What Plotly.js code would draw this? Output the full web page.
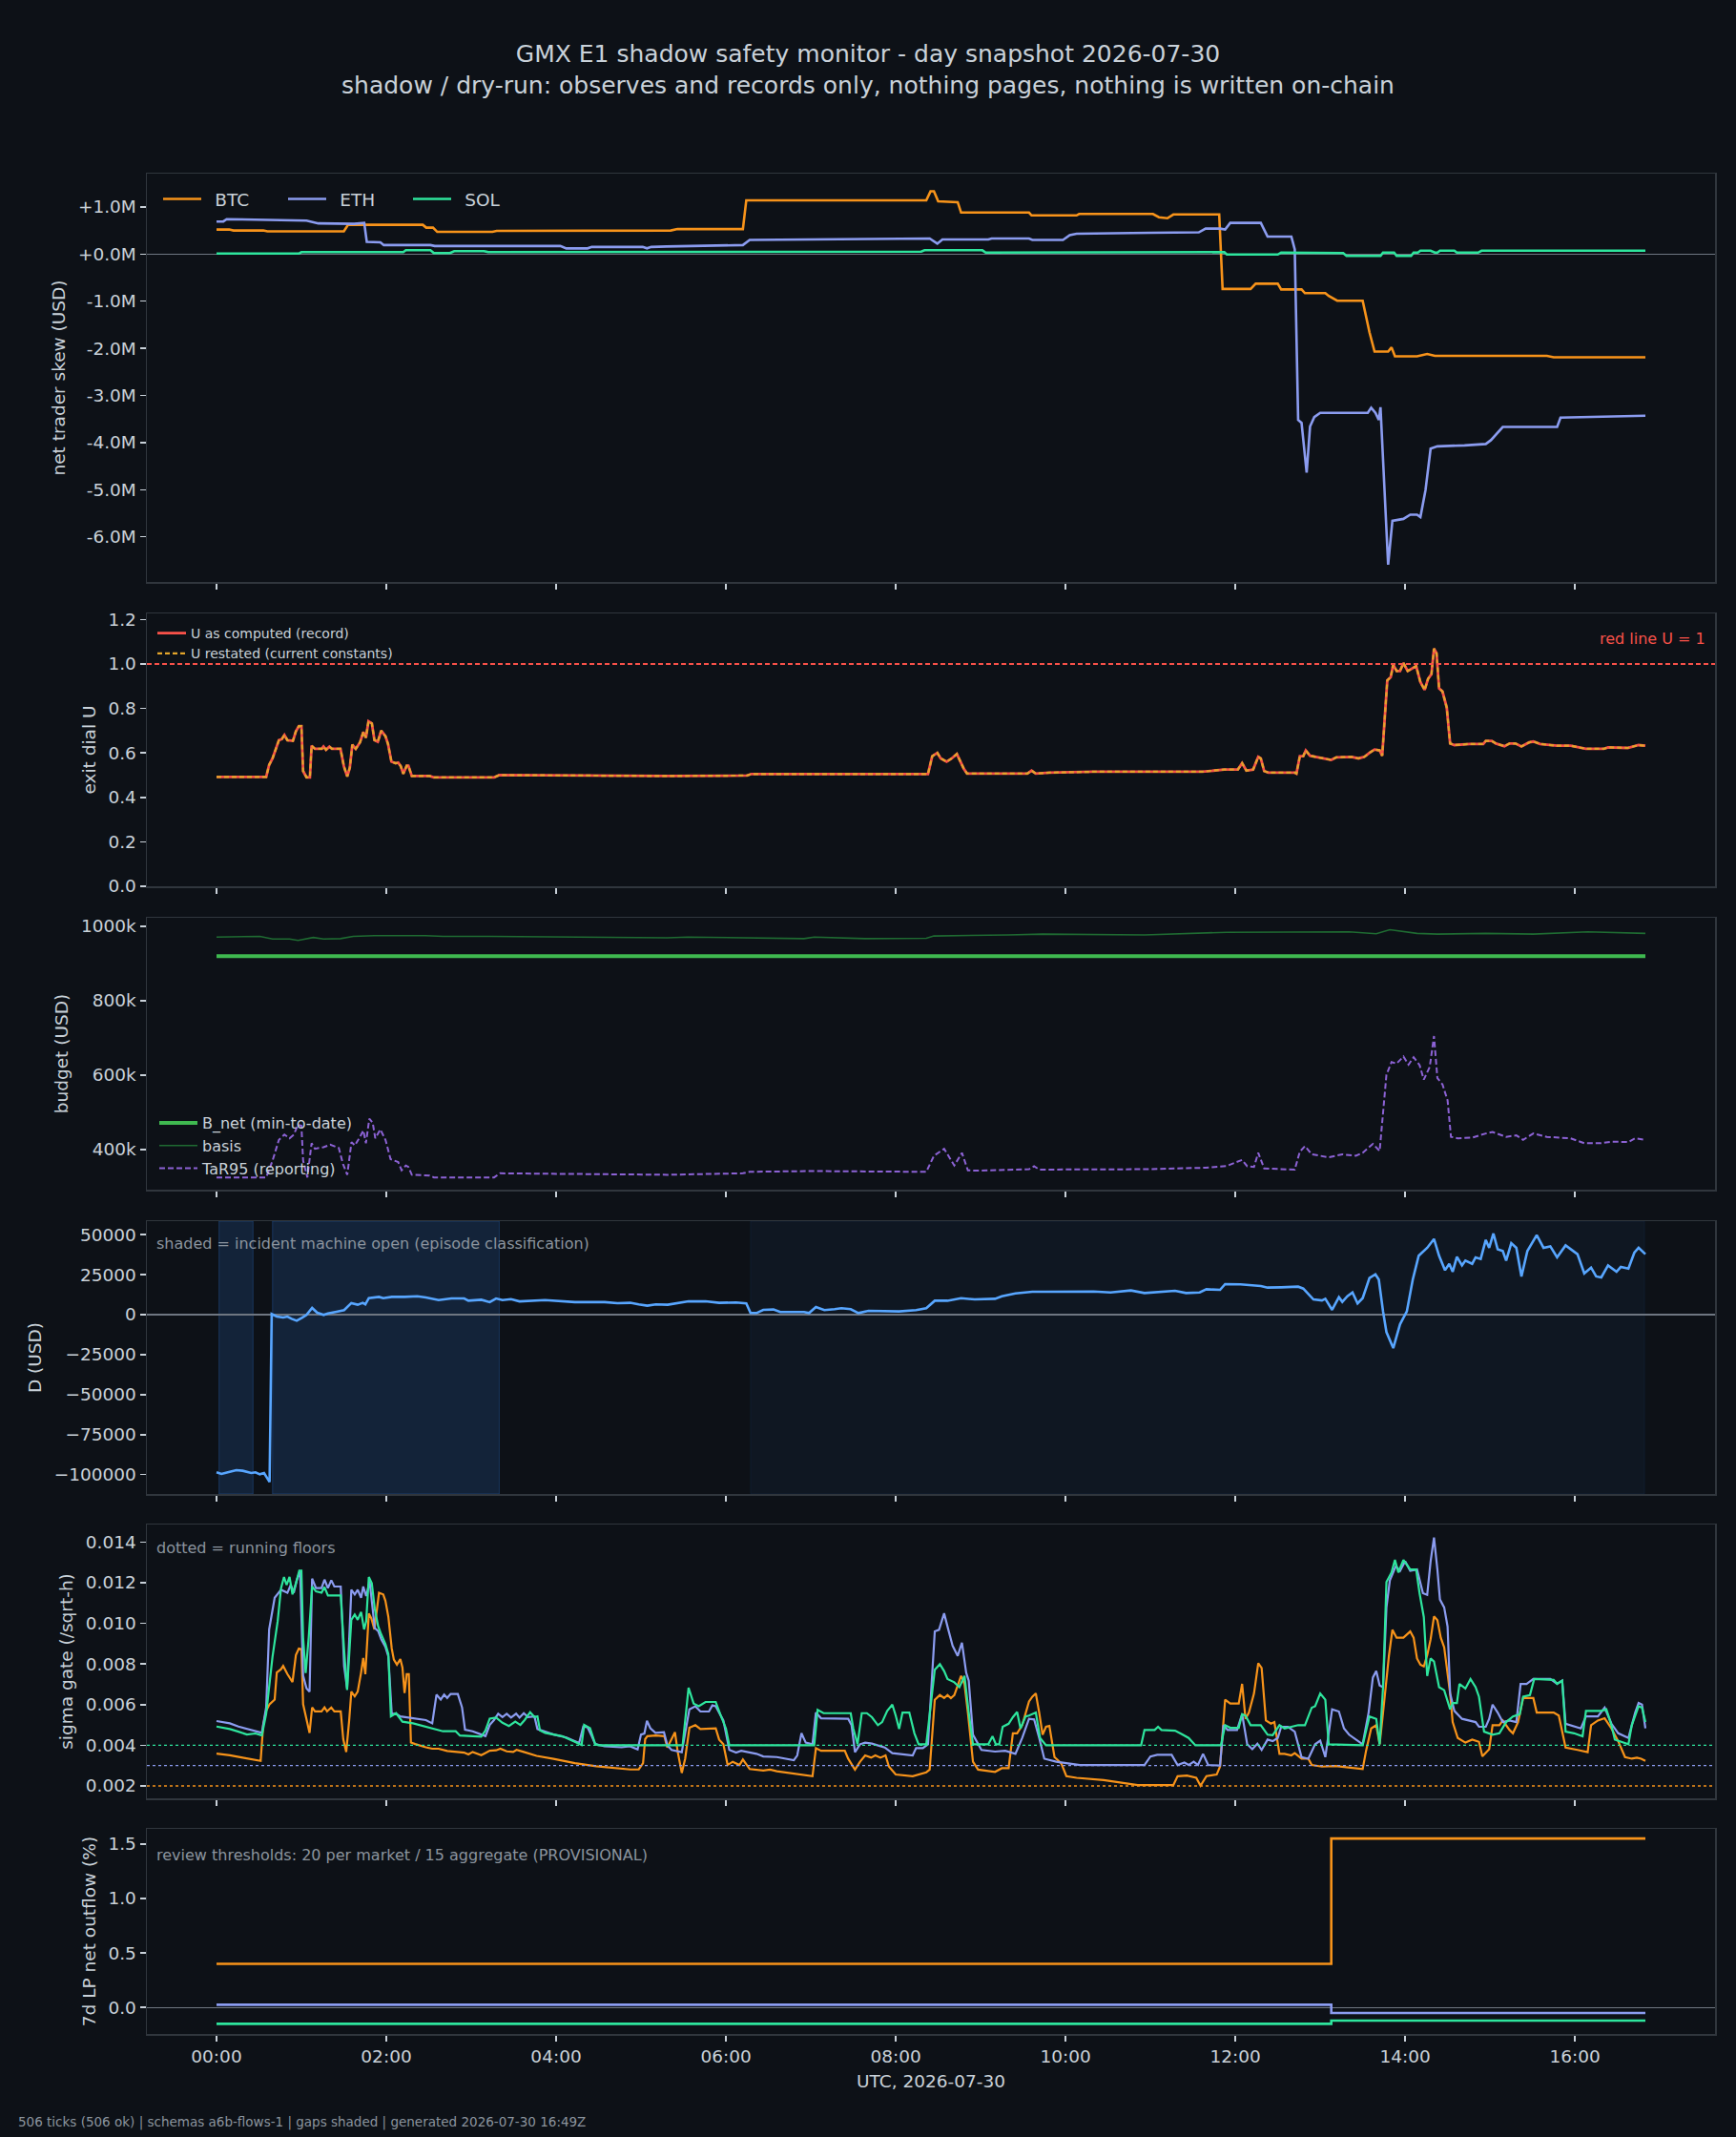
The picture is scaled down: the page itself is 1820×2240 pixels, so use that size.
<!DOCTYPE html>
<html><head><meta charset="utf-8">
<script src="https://cdn.plot.ly/plotly-3.0.1.min.js"></script>
<style>html,body{margin:0;padding:0;background:#0d1117;}#chart{width:1820px;height:2240px;}</style>
</head><body><div id="chart"></div>
<script>
// ---------- data (hours since 00:00 UTC, value) ----------
const X_TICK_VALS = [0,2,4,6,8,10,12,14,16];
const X_TICK_LABELS = ["00:00","02:00","04:00","06:00","08:00","10:00","12:00","14:00","16:00"];

// panel 1: net trader skew, millions USD
const BTC_SKEW_M = [[0,0.52],[0.15,0.52],[0.2,0.50],[0.55,0.50],[0.6,0.48],[1.5,0.48],[1.55,0.62],[2.43,0.62],[2.47,0.56],[2.55,0.56],[2.6,0.47],[3.25,0.47],[3.3,0.49],[4.1,0.49],[4.15,0.50],[5.35,0.50],[5.43,0.53],[6.2,0.53],[6.24,1.14],[8.36,1.14],[8.41,1.33],[8.45,1.33],[8.5,1.12],[8.73,1.10],[8.77,0.88],[9.57,0.88],[9.6,0.82],[10.13,0.82],[10.16,0.85],[11.03,0.85],[11.1,0.78],[11.2,0.76],[11.27,0.84],[11.81,0.84],[11.85,-0.74],[12.18,-0.74],[12.24,-0.63],[12.5,-0.63],[12.54,-0.75],[12.78,-0.75],[12.82,-0.83],[13.06,-0.83],[13.1,-0.89],[13.2,-0.99],[13.5,-0.99],[13.58,-1.66],[13.64,-2.07],[13.8,-2.07],[13.84,-1.98],[13.88,-2.17],[14.14,-2.17],[14.26,-2.12],[14.35,-2.16],[15.67,-2.16],[15.75,-2.19],[16.83,-2.19]];
const ETH_SKEW_M = [[0,0.69],[0.08,0.69],[0.12,0.74],[0.73,0.73],[0.78,0.72],[1.06,0.71],[1.2,0.65],[1.56,0.65],[1.62,0.64],[1.74,0.66],[1.77,0.26],[1.93,0.25],[1.97,0.19],[2.52,0.19],[2.57,0.17],[4.05,0.17],[4.12,0.12],[4.37,0.12],[4.42,0.15],[5.02,0.15],[5.07,0.12],[5.12,0.15],[5.3,0.16],[6.2,0.19],[6.28,0.30],[8.4,0.33],[8.49,0.22],[8.55,0.31],[9.09,0.31],[9.13,0.33],[9.57,0.33],[9.61,0.30],[9.97,0.30],[10.05,0.40],[10.13,0.43],[11.0,0.45],[11.57,0.46],[11.65,0.54],[11.82,0.54],[11.88,0.52],[11.94,0.66],[12.3,0.66],[12.38,0.37],[12.66,0.37],[12.7,0.10],[12.74,-3.52],[12.78,-3.58],[12.84,-4.64],[12.88,-3.66],[12.93,-3.46],[13.0,-3.37],[13.56,-3.37],[13.6,-3.26],[13.65,-3.37],[13.69,-3.52],[13.71,-3.25],[13.8,-6.59],[13.85,-5.66],[13.98,-5.62],[14.06,-5.53],[14.14,-5.53],[14.18,-5.58],[14.24,-5.01],[14.3,-4.13],[14.38,-4.08],[14.7,-4.06],[14.95,-4.03],[15.01,-3.95],[15.07,-3.82],[15.15,-3.67],[15.79,-3.67],[15.83,-3.47],[16.83,-3.43]];
const SOL_SKEW_M = [[0,0.01],[0.97,0.01],[1.0,0.04],[2.2,0.04],[2.23,0.08],[2.52,0.08],[2.56,0.02],[2.75,0.02],[2.8,0.06],[3.15,0.06],[3.2,0.04],[8.3,0.05],[8.34,0.08],[9.02,0.08],[9.06,0.03],[11.87,0.04],[11.9,-0.01],[12.5,-0.01],[12.54,0.03],[13.27,0.02],[13.31,-0.04],[13.71,-0.04],[13.74,0.03],[13.87,0.03],[13.9,-0.04],[14.07,-0.04],[14.1,0.03],[14.15,0.03],[14.18,0.07],[14.3,0.07],[14.35,0.03],[14.38,0.03],[14.41,0.07],[14.58,0.07],[14.61,0.03],[14.86,0.03],[14.9,0.07],[16.83,0.07]];
const SKEW_TICK_VALS = [-6,-5,-4,-3,-2,-1,0,1];
const SKEW_TICK_LABELS = ["-6.0M","-5.0M","-4.0M","-3.0M","-2.0M","-1.0M","+0.0M","+1.0M"];

// panel 2: exit dial U (record and restated coincide)
const U_RECORD = [[0,0.492],[0.585,0.492],[0.62,0.546],[0.66,0.575],[0.735,0.657],[0.77,0.662],[0.80,0.68],[0.835,0.657],[0.90,0.654],[0.935,0.697],[0.97,0.72],[1.0,0.72],[1.02,0.518],[1.06,0.49],[1.10,0.49],[1.12,0.632],[1.16,0.618],[1.24,0.618],[1.26,0.628],[1.29,0.614],[1.33,0.628],[1.36,0.618],[1.46,0.618],[1.50,0.54],[1.54,0.494],[1.57,0.533],[1.60,0.637],[1.64,0.618],[1.69,0.647],[1.73,0.694],[1.76,0.668],[1.79,0.742],[1.83,0.732],[1.86,0.657],[1.90,0.65],[1.94,0.70],[1.99,0.675],[2.02,0.64],[2.06,0.561],[2.11,0.553],[2.14,0.556],[2.17,0.54],[2.2,0.506],[2.24,0.542],[2.26,0.542],[2.30,0.496],[2.51,0.496],[2.56,0.49],[3.27,0.49],[3.33,0.50],[5.3,0.496],[6.25,0.498],[6.3,0.505],[8.38,0.505],[8.43,0.585],[8.49,0.60],[8.53,0.575],[8.6,0.56],[8.66,0.575],[8.72,0.595],[8.8,0.53],[8.84,0.507],[9.55,0.507],[9.6,0.52],[9.65,0.507],[9.81,0.511],[10.32,0.515],[11.61,0.515],[11.87,0.525],[12.03,0.525],[12.08,0.554],[12.13,0.52],[12.21,0.525],[12.27,0.582],[12.30,0.575],[12.34,0.518],[12.39,0.511],[12.70,0.511],[12.72,0.507],[12.76,0.585],[12.8,0.585],[12.83,0.611],[12.88,0.587],[13.0,0.578],[13.13,0.568],[13.19,0.58],[13.37,0.582],[13.45,0.575],[13.52,0.582],[13.58,0.6],[13.64,0.615],[13.7,0.611],[13.73,0.587],[13.79,0.926],[13.83,0.94],[13.86,0.997],[13.9,0.968],[13.94,0.968],[13.98,1.004],[14.03,0.968],[14.09,0.983],[14.13,0.99],[14.18,0.918],[14.23,0.883],[14.27,0.933],[14.31,0.954],[14.34,1.069],[14.37,1.048],[14.40,0.89],[14.44,0.876],[14.49,0.804],[14.53,0.642],[14.58,0.635],[14.76,0.64],[14.92,0.64],[14.95,0.654],[15.02,0.654],[15.07,0.642],[15.17,0.63],[15.23,0.642],[15.3,0.642],[15.37,0.629],[15.46,0.647],[15.51,0.651],[15.59,0.64],[15.79,0.632],[15.95,0.632],[16.05,0.625],[16.13,0.618],[16.34,0.618],[16.39,0.625],[16.62,0.622],[16.7,0.632],[16.75,0.635],[16.83,0.632]];
const U_RESTATED = U_RECORD;
const U_RED_LINE = 1.0;

// panel 3: budget, thousands USD
const B_NET_K = [[0,920],[16.83,920]];
const BASIS_K = [[0,971],[0.26,973],[0.51,973],[0.66,966],[0.86,966],[0.96,962],[1.14,970],[1.26,966],[1.46,967],[1.61,973],[1.86,975],[2.46,975],[2.67,973],[3.22,973],[3.97,971],[5.31,969],[5.55,971],[6.92,967],[7.04,971],[7.64,967],[8.36,968],[8.45,974],[9.33,977],[9.73,979],[10.93,977],[11.9,984],[13.34,985],[13.66,980],[13.82,991],[14.14,981],[14.38,979],[14.95,981],[15.51,979],[16.15,985],[16.83,981]];
const TAR95_K = [[0,325],[0.585,325],[0.66,370],[0.735,426],[0.80,440],[0.86,430],[0.91,440],[0.96,466],[1.0,464],[1.02,370],[1.07,325],[1.12,417],[1.16,402],[1.26,406],[1.34,413],[1.44,404],[1.49,361],[1.54,332],[1.59,420],[1.63,411],[1.69,434],[1.73,451],[1.76,417],[1.80,483],[1.84,472],[1.87,430],[1.93,454],[1.99,426],[2.05,374],[2.14,366],[2.18,344],[2.23,357],[2.26,353],[2.30,332],[2.51,330],[2.56,325],[3.27,325],[3.34,336],[5.31,332],[6.2,336],[6.28,340],[7.0,342],[8.36,340],[8.45,383],[8.57,402],[8.69,357],[8.78,391],[8.85,344],[8.93,343],[9.57,347],[9.63,355],[9.69,346],[10.93,347],[11.65,351],[11.9,356],[12.08,372],[12.14,355],[12.22,353],[12.27,391],[12.34,349],[12.7,346],[12.76,394],[12.82,409],[12.9,387],[13.1,379],[13.26,387],[13.42,383],[13.5,391],[13.62,415],[13.7,396],[13.78,601],[13.84,635],[13.9,631],[13.98,650],[14.04,628],[14.1,648],[14.17,627],[14.22,588],[14.29,622],[14.34,705],[14.38,592],[14.44,575],[14.5,532],[14.54,434],[14.62,430],[14.79,432],[14.95,443],[15.03,447],[15.19,434],[15.31,438],[15.39,426],[15.51,443],[15.67,434],[15.83,432],[15.95,430],[16.11,417],[16.31,417],[16.43,421],[16.63,420],[16.71,430],[16.83,426]];
const BUDGET_TICK_VALS = [400,600,800,1000];
const BUDGET_TICK_LABELS = ["400k","600k","800k","1000k"];

// panel 4: D (USD) and incident episodes
const D_USD = [[0,-98600],[0.058,-99600],[0.133,-98600],[0.233,-97200],[0.308,-97600],[0.409,-99000],[0.459,-98600],[0.51,-99800],[0.56,-99000],[0.585,-101000],[0.625,-104600],[0.65,400],[0.71,-1200],[0.785,-1800],[0.835,-1200],[0.885,-2600],[0.945,-3800],[1.01,-1800],[1.06,-200],[1.126,4200],[1.187,1200],[1.262,-200],[1.312,800],[1.413,1800],[1.463,2400],[1.503,2800],[1.588,7200],[1.663,6200],[1.723,7400],[1.753,6400],[1.794,10300],[1.914,11100],[1.964,10300],[2.064,11100],[2.215,11100],[2.365,11500],[2.466,10700],[2.616,9100],[2.767,10100],[2.917,10100],[2.967,8700],[3.118,9300],[3.218,7800],[3.293,10100],[3.368,9100],[3.469,9700],[3.569,8300],[3.87,9100],[4.221,7800],[4.572,7800],[4.723,7200],[4.873,7400],[4.973,6400],[5.074,5600],[5.174,6400],[5.314,6200],[5.56,8300],[5.76,8300],[5.92,7400],[6.12,7600],[6.24,7000],[6.29,1000],[6.36,1000],[6.44,3000],[6.56,3200],[6.64,1600],[6.92,1600],[6.98,1000],[7.06,4800],[7.16,2800],[7.28,3400],[7.36,4000],[7.47,3400],[7.56,1000],[7.68,2400],[8.04,2000],[8.24,2800],[8.36,4000],[8.46,8700],[8.61,8700],[8.77,10300],[8.93,9500],[9.17,9900],[9.25,11500],[9.41,13300],[9.61,14300],[9.77,14300],[10.13,14300],[10.33,14500],[10.53,13900],[10.69,14700],[10.77,15100],[10.93,13500],[11.05,13900],[11.29,14900],[11.42,13500],[11.58,13900],[11.66,15900],[11.82,15500],[11.88,19100],[12.06,18900],[12.3,17900],[12.38,16900],[12.54,17100],[12.74,17500],[12.8,16300],[12.92,9500],[13.02,8900],[13.06,9900],[13.14,3000],[13.22,10900],[13.26,8000],[13.32,11500],[13.38,13900],[13.44,7000],[13.5,10300],[13.58,22900],[13.65,25200],[13.69,21900],[13.74,2000],[13.78,-10900],[13.86,-20900],[13.94,-6000],[14.02,2000],[14.09,21900],[14.16,36800],[14.26,41800],[14.34,47300],[14.4,36800],[14.47,27800],[14.52,31800],[14.56,26800],[14.61,36200],[14.67,30800],[14.71,33800],[14.79,31800],[14.83,35800],[14.89,34800],[14.95,46700],[14.99,41800],[15.04,50700],[15.09,40800],[15.15,39800],[15.19,33800],[15.25,44700],[15.31,41800],[15.37,23900],[15.44,39800],[15.55,49700],[15.63,41800],[15.71,42700],[15.79,35800],[15.89,43300],[16.03,37800],[16.11,25800],[16.19,29400],[16.25,23900],[16.31,23300],[16.39,30800],[16.49,26800],[16.54,29800],[16.63,28800],[16.7,38800],[16.75,41800],[16.83,37800]];
const EPISODE_START = [0.03, 0.66, 6.29];
const EPISODE_END   = [0.43, 3.33, 16.82];
const EPISODE_KIND  = ["incident","incident","watch"];
const D_TICK_VALS = [-100000,-75000,-50000,-25000,0,25000,50000];
const D_TICK_LABELS = ["\u2212100000","\u221275000","\u221250000","\u221225000","0","25000","50000"];

// panel 5: sigma gate (/sqrt-h) and running floors
const BTC_SIGMA = [[0,0.00359],[0.157,0.00351],[0.308,0.00339],[0.459,0.00328],[0.52,0.00323],[0.55,0.005],[0.585,0.0057],[0.625,0.00602],[0.685,0.00625],[0.71,0.00758],[0.76,0.00774],[0.785,0.0079],[0.835,0.0075],[0.895,0.00711],[0.935,0.00844],[0.97,0.00876],[1.0,0.00873],[1.02,0.00602],[1.06,0.00524],[1.096,0.00461],[1.126,0.00586],[1.16,0.00567],[1.237,0.00567],[1.272,0.00586],[1.302,0.00567],[1.352,0.00586],[1.388,0.00567],[1.463,0.00567],[1.493,0.0043],[1.528,0.00367],[1.563,0.00524],[1.588,0.00664],[1.628,0.00641],[1.663,0.00664],[1.703,0.00758],[1.728,0.00829],[1.753,0.0075],[1.794,0.01048],[1.824,0.01024],[1.86,0.0097],[1.914,0.0115],[1.964,0.01142],[1.989,0.01111],[2.024,0.01032],[2.064,0.00876],[2.089,0.00821],[2.125,0.00797],[2.165,0.00824],[2.19,0.00782],[2.215,0.00657],[2.24,0.0075],[2.265,0.0075],[2.29,0.00414],[2.34,0.00406],[2.466,0.0039],[2.541,0.00383],[2.616,0.00383],[2.717,0.00372],[2.917,0.00364],[2.967,0.00355],[3.017,0.00367],[3.118,0.00351],[3.218,0.00373],[3.293,0.00375],[3.343,0.00383],[3.418,0.0037],[3.494,0.00367],[3.534,0.00377],[3.619,0.00367],[3.77,0.00348],[3.97,0.00333],[4.221,0.00312],[4.472,0.00297],[4.723,0.00286],[4.873,0.00281],[4.973,0.00281],[5.024,0.00312],[5.049,0.0043],[5.074,0.00445],[5.174,0.00448],[5.274,0.00445],[5.31,0.00389],[5.4,0.00464],[5.43,0.00373],[5.48,0.00264],[5.52,0.00334],[5.57,0.00486],[5.64,0.00499],[5.7,0.0048],[5.88,0.00483],[5.92,0.00428],[5.97,0.00405],[6.02,0.00303],[6.08,0.00319],[6.16,0.00303],[6.2,0.0033],[6.28,0.00283],[6.44,0.00276],[6.52,0.0028],[6.6,0.00272],[6.92,0.00256],[7.02,0.00248],[7.06,0.00386],[7.12,0.00373],[7.4,0.00373],[7.44,0.00334],[7.52,0.0028],[7.58,0.00319],[7.64,0.0035],[7.71,0.00339],[7.76,0.0035],[7.82,0.00339],[7.88,0.0035],[7.92,0.00295],[8.0,0.00256],[8.2,0.00248],[8.36,0.00267],[8.4,0.0028],[8.46,0.00624],[8.52,0.00647],[8.57,0.00632],[8.61,0.00647],[8.65,0.00632],[8.69,0.00647],[8.77,0.00741],[8.81,0.00702],[8.85,0.00561],[8.91,0.00319],[8.97,0.0028],[9.17,0.00269],[9.25,0.00287],[9.33,0.00287],[9.38,0.00459],[9.43,0.00459],[9.49,0.00499],[9.57,0.00616],[9.61,0.00639],[9.65,0.00655],[9.69,0.00561],[9.73,0.00452],[9.77,0.00491],[9.81,0.00495],[9.87,0.00342],[9.95,0.00311],[10.01,0.00248],[10.13,0.0024],[10.45,0.00229],[10.85,0.00204],[11.27,0.00204],[11.32,0.00248],[11.43,0.00251],[11.54,0.0024],[11.59,0.00201],[11.66,0.00248],[11.78,0.00256],[11.82,0.00295],[11.88,0.00624],[11.94,0.00605],[12.04,0.00605],[12.08,0.00702],[12.12,0.0053],[12.16,0.00561],[12.22,0.00655],[12.27,0.00804],[12.31,0.0078],[12.36,0.00522],[12.42,0.00506],[12.46,0.00514],[12.52,0.00358],[12.58,0.00358],[12.66,0.0035],[12.7,0.00361],[12.78,0.00334],[12.86,0.00334],[12.9,0.00303],[13.02,0.00295],[13.18,0.00298],[13.34,0.00292],[13.5,0.00283],[13.54,0.00373],[13.6,0.00483],[13.66,0.00499],[13.7,0.00405],[13.74,0.00561],[13.81,0.00843],[13.85,0.00968],[13.9,0.00929],[13.98,0.00929],[14.06,0.0096],[14.1,0.00929],[14.14,0.00827],[14.18,0.00796],[14.22,0.00788],[14.26,0.00843],[14.3,0.00921],[14.34,0.01034],[14.38,0.01015],[14.42,0.00929],[14.46,0.00882],[14.53,0.00655],[14.56,0.00514],[14.62,0.00436],[14.71,0.00413],[14.79,0.00428],[14.87,0.00417],[14.91,0.00345],[14.99,0.00381],[15.03,0.00499],[15.11,0.00499],[15.15,0.00522],[15.23,0.00475],[15.27,0.00459],[15.33,0.00514],[15.39,0.00632],[15.51,0.00632],[15.55,0.00561],[15.75,0.00561],[15.81,0.00546],[15.89,0.00389],[16.03,0.00377],[16.15,0.00366],[16.19,0.00499],[16.27,0.00522],[16.35,0.00533],[16.43,0.00483],[16.51,0.0042],[16.59,0.00342],[16.67,0.00334],[16.73,0.00339],[16.78,0.00334],[16.83,0.00323]];
const ETH_SIGMA = [[0,0.00519],[0.157,0.00508],[0.258,0.00492],[0.358,0.0048],[0.459,0.00469],[0.534,0.00461],[0.585,0.00586],[0.62,0.0097],[0.685,0.01126],[0.76,0.01165],[0.835,0.0115],[0.875,0.01189],[0.91,0.0115],[0.945,0.01212],[0.985,0.01259],[1.02,0.00743],[1.06,0.0068],[1.096,0.00664],[1.126,0.0122],[1.172,0.01173],[1.237,0.01173],[1.272,0.01215],[1.312,0.01173],[1.352,0.01212],[1.388,0.01181],[1.463,0.01181],[1.503,0.0079],[1.538,0.0068],[1.588,0.01165],[1.628,0.01142],[1.663,0.01165],[1.703,0.01126],[1.728,0.01181],[1.763,0.01134],[1.804,0.01205],[1.839,0.01056],[1.864,0.00977],[1.904,0.00962],[1.939,0.00923],[1.989,0.00884],[2.024,0.00837],[2.064,0.00555],[2.115,0.00555],[2.165,0.00542],[2.265,0.00536],[2.466,0.00524],[2.541,0.00508],[2.591,0.00649],[2.641,0.00625],[2.681,0.00649],[2.717,0.00633],[2.757,0.00652],[2.842,0.00652],[2.892,0.00586],[2.927,0.00477],[3.017,0.00469],[3.118,0.00453],[3.168,0.00445],[3.218,0.005],[3.268,0.00524],[3.318,0.00555],[3.368,0.00539],[3.418,0.00555],[3.469,0.00536],[3.529,0.00555],[3.569,0.00536],[3.619,0.00558],[3.669,0.00539],[3.745,0.00542],[3.78,0.0048],[3.82,0.00474],[3.97,0.00453],[4.121,0.00438],[4.271,0.00411],[4.32,0.00492],[4.37,0.00489],[4.42,0.00445],[4.46,0.00406],[4.57,0.00395],[4.77,0.0039],[4.87,0.00395],[4.96,0.0038],[5.0,0.00453],[5.04,0.00458],[5.07,0.0052],[5.11,0.00484],[5.17,0.00461],[5.27,0.00464],[5.31,0.004],[5.36,0.00377],[5.48,0.00366],[5.57,0.00577],[5.64,0.00592],[5.7,0.00566],[5.8,0.00566],[5.84,0.00596],[5.88,0.00592],[5.92,0.00561],[5.97,0.00522],[6.04,0.00377],[6.12,0.00364],[6.18,0.00373],[6.36,0.00358],[6.44,0.00345],[6.6,0.00342],[6.8,0.00326],[6.84,0.0035],[6.89,0.00459],[6.94,0.00413],[7.02,0.00405],[7.06,0.00561],[7.12,0.00533],[7.44,0.0053],[7.48,0.00499],[7.52,0.00366],[7.58,0.00405],[7.64,0.00413],[7.72,0.00408],[7.87,0.00389],[7.96,0.00361],[8.2,0.0035],[8.24,0.00386],[8.32,0.00386],[8.38,0.00405],[8.46,0.0096],[8.51,0.00968],[8.57,0.01049],[8.62,0.00968],[8.67,0.0089],[8.73,0.0084],[8.78,0.00905],[8.83,0.00757],[8.86,0.00718],[8.91,0.00452],[9.01,0.00377],[9.17,0.00369],[9.29,0.00373],[9.41,0.00358],[9.49,0.00436],[9.57,0.0053],[9.63,0.00527],[9.69,0.00436],[9.75,0.00334],[9.89,0.00319],[10.05,0.00311],[10.17,0.00303],[10.93,0.00303],[11.0,0.00345],[11.08,0.00353],[11.25,0.00353],[11.32,0.00303],[11.4,0.00315],[11.45,0.00303],[11.51,0.00319],[11.56,0.00303],[11.62,0.00358],[11.68,0.00303],[11.82,0.003],[11.86,0.00499],[11.91,0.00475],[12.02,0.00475],[12.08,0.00553],[12.14,0.00405],[12.2,0.00381],[12.26,0.00408],[12.31,0.00377],[12.38,0.00428],[12.44,0.0042],[12.5,0.00436],[12.54,0.00491],[12.62,0.00491],[12.7,0.00467],[12.78,0.00342],[12.86,0.00334],[12.94,0.00405],[13.0,0.00423],[13.06,0.00342],[13.14,0.00577],[13.22,0.00566],[13.28,0.00483],[13.34,0.00452],[13.5,0.00405],[13.57,0.00561],[13.62,0.00733],[13.66,0.00765],[13.7,0.00694],[13.74,0.00686],[13.78,0.01078],[13.82,0.01211],[13.89,0.01281],[13.94,0.01258],[14.0,0.01305],[14.06,0.01258],[14.14,0.01265],[14.21,0.01148],[14.26,0.0114],[14.3,0.01305],[14.34,0.01422],[14.38,0.01265],[14.41,0.01117],[14.46,0.01078],[14.5,0.00984],[14.53,0.00655],[14.58,0.00569],[14.67,0.0053],[14.75,0.00522],[14.83,0.00514],[14.87,0.00491],[14.95,0.00491],[14.99,0.0053],[15.03,0.006],[15.09,0.00561],[15.15,0.00514],[15.23,0.00522],[15.31,0.00514],[15.36,0.00702],[15.43,0.00702],[15.51,0.00726],[15.71,0.00726],[15.79,0.00702],[15.85,0.00718],[15.89,0.00506],[15.99,0.00495],[16.07,0.00483],[16.13,0.00542],[16.27,0.00542],[16.35,0.00585],[16.43,0.00506],[16.51,0.00459],[16.63,0.00436],[16.67,0.00499],[16.71,0.00561],[16.75,0.00608],[16.79,0.006],[16.83,0.00483]];
const SOL_SIGMA = [[0,0.00492],[0.157,0.0048],[0.258,0.00467],[0.358,0.00453],[0.459,0.00458],[0.534,0.00448],[0.585,0.00555],[0.66,0.00837],[0.72,0.01009],[0.76,0.01173],[0.795,0.01228],[0.825,0.01189],[0.86,0.01228],[0.895,0.01142],[0.935,0.01197],[0.975,0.01259],[1.0,0.01259],[1.02,0.0093],[1.05,0.00755],[1.086,0.0093],[1.126,0.01181],[1.172,0.01157],[1.237,0.0115],[1.272,0.01178],[1.312,0.01137],[1.463,0.01137],[1.503,0.00868],[1.538,0.00672],[1.588,0.01017],[1.628,0.01043],[1.663,0.01017],[1.703,0.01056],[1.738,0.0097],[1.763,0.01009],[1.794,0.01228],[1.829,0.01197],[1.864,0.01071],[1.904,0.00985],[1.939,0.00946],[1.989,0.00899],[2.024,0.00849],[2.054,0.00542],[2.115,0.00558],[2.19,0.00516],[2.315,0.00508],[2.466,0.00492],[2.566,0.0048],[2.667,0.00469],[2.817,0.00469],[2.867,0.00448],[3.017,0.00445],[3.118,0.00442],[3.168,0.00473],[3.218,0.00531],[3.293,0.00536],[3.368,0.00511],[3.444,0.00495],[3.519,0.00516],[3.579,0.005],[3.629,0.00524],[3.694,0.00563],[3.745,0.00539],[3.78,0.00542],[3.81,0.00473],[3.87,0.00461],[4.07,0.00445],[4.22,0.00417],[4.3,0.00401],[4.33,0.005],[4.4,0.00484],[4.46,0.00406],[4.5,0.004],[5.49,0.004],[5.56,0.00683],[5.62,0.00605],[5.68,0.00592],[5.76,0.00613],[5.88,0.00613],[5.94,0.00546],[6.0,0.00483],[6.04,0.004],[7.04,0.004],[7.08,0.00574],[7.15,0.00558],[7.47,0.00558],[7.5,0.00483],[7.55,0.00405],[7.6,0.00558],[7.66,0.00558],[7.72,0.00538],[7.79,0.00499],[7.84,0.00514],[7.9,0.00569],[7.96,0.006],[8.0,0.00546],[8.04,0.0048],[8.08,0.00561],[8.16,0.00561],[8.22,0.00459],[8.27,0.00405],[8.36,0.00405],[8.46,0.00772],[8.52,0.00799],[8.57,0.00765],[8.61,0.00726],[8.69,0.0071],[8.75,0.00686],[8.81,0.00741],[8.86,0.00561],[8.91,0.00405],[9.09,0.00405],[9.14,0.00444],[9.18,0.00405],[9.22,0.00405],[9.26,0.00491],[9.33,0.00506],[9.38,0.00538],[9.43,0.00564],[9.47,0.00483],[9.53,0.00542],[9.57,0.00546],[9.65,0.00561],[9.7,0.00436],[9.77,0.004],[10.89,0.004],[10.93,0.00475],[11.05,0.00475],[11.09,0.00491],[11.13,0.00475],[11.29,0.00472],[11.37,0.00455],[11.45,0.00436],[11.53,0.004],[11.83,0.004],[11.88,0.00499],[11.94,0.00486],[12.04,0.00486],[12.08,0.00553],[12.12,0.00546],[12.18,0.00499],[12.3,0.00499],[12.38,0.00452],[12.44,0.00449],[12.52,0.00499],[12.58,0.00483],[12.66,0.00491],[12.74,0.00499],[12.82,0.00499],[12.9,0.00585],[12.94,0.00592],[13.0,0.00655],[13.06,0.00624],[13.1,0.00405],[13.5,0.004],[13.58,0.00542],[13.66,0.0053],[13.7,0.00405],[13.74,0.00686],[13.78,0.01203],[13.84,0.0125],[13.88,0.01312],[13.92,0.0125],[13.98,0.01312],[14.06,0.01265],[14.13,0.01265],[14.17,0.01148],[14.22,0.01031],[14.26,0.00741],[14.3,0.00827],[14.34,0.00812],[14.4,0.00686],[14.46,0.00671],[14.53,0.00577],[14.56,0.00608],[14.61,0.00608],[14.64,0.00702],[14.71,0.00679],[14.77,0.00726],[14.83,0.00686],[14.87,0.00639],[14.93,0.00467],[15.03,0.00452],[15.11,0.00459],[15.19,0.00514],[15.27,0.00542],[15.35,0.00553],[15.39,0.00639],[15.47,0.00647],[15.52,0.00726],[15.75,0.00722],[15.79,0.00702],[15.85,0.00718],[15.89,0.00467],[15.99,0.00459],[16.09,0.00444],[16.13,0.00569],[16.31,0.00569],[16.37,0.00577],[16.43,0.00499],[16.47,0.00428],[16.63,0.00405],[16.67,0.00499],[16.71,0.00546],[16.75,0.00592],[16.79,0.00585],[16.83,0.00514]];
const SIGMA_FLOOR = {BTC:0.002, ETH:0.003, SOL:0.004};

// panel 6: 7d LP net outflow (%), step series
const BTC_LP = [[0,0.40],[13.13,1.55],[16.83,1.55]];
const ETH_LP = [[0,0.025],[13.13,-0.05],[16.83,-0.05]];
const SOL_LP = [[0,-0.15],[13.13,-0.12],[16.83,-0.12]];

// ---------- styling ----------
const FONT = "DejaVu Sans, Verdana, sans-serif";
const BG = "#0d1117", SPINE = "#30363d", TXT = "#c9d1d9", MUTED = "#8b949e";
const C = {BTC:"#f7931a", ETH:"#8b9cf0", SOL:"#2ee59d", D:"#58a6ff", RED:"#f85149", GOLD:"#e3a52a",
           BNET:"#3fb950", BASIS:"#1f6b32", TAR:"#a371f7", ZERO:"#6e7681"};
const W = 1820, H = 2240;
const ML = 154, MR = 22, MT = 182, MB = 108;
const PH = H - MT - MB;
const PANELS = [[182,610],[643,929],[962,1247],[1280,1566],[1598,1885],[1917,2132]];
const px = v => (v - ML) / (W - ML - MR);
const py = v => (H - MB - v) / PH;
const ydom = p => [py(p[1]), py(p[0])];
const XRANGE = [-0.82, 17.65];
const GAP = "\u2002"; // small gap between legend sample and label

const xs = a => a.map(p => p[0]);
const ys = a => a.map(p => p[1]);
function tr(data, i, color, width, extra) {
  const s = i === 1 ? "" : String(i);
  return Object.assign({type:"scatter", mode:"lines", x:xs(data), y:ys(data), xaxis:"x"+s, yaxis:"y"+s,
    line:{color:color, width:width}, hoverinfo:"skip", showlegend:false}, extra || {});
}

const traces = [
  tr(BTC_SKEW_M,1,C.BTC,2.6,{name:GAP+"BTC",showlegend:true,legend:"legend"}),
  tr(ETH_SKEW_M,1,C.ETH,2.6,{name:GAP+"ETH",showlegend:true,legend:"legend"}),
  tr(SOL_SKEW_M,1,C.SOL,2.6,{name:GAP+"SOL",showlegend:true,legend:"legend"}),
  tr(U_RECORD,2,C.RED,2.8,{name:"U as computed (record)",showlegend:true,legend:"legend2"}),
  tr(U_RESTATED,2,C.GOLD,2.2,{name:"U restated (current constants)",showlegend:true,legend:"legend2",line:{color:C.GOLD,width:2.2,dash:"5px,3px"}}),
  tr(B_NET_K,3,C.BNET,4,{name:"B_net (min-to-date)",showlegend:true,legend:"legend3"}),
  tr(BASIS_K,3,C.BASIS,1.6,{name:"basis",showlegend:true,legend:"legend3"}),
  tr(TAR95_K,3,C.TAR,2,{name:"TaR95 (reporting)",showlegend:true,legend:"legend3",opacity:0.85,line:{color:C.TAR,width:2,dash:"6px,3px"}}),
  tr(D_USD,4,C.D,2.6),
  tr(BTC_SIGMA,5,C.BTC,2.2),
  tr(ETH_SIGMA,5,C.ETH,2.2),
  tr(SOL_SIGMA,5,C.SOL,2.2),
  tr(BTC_LP,6,C.BTC,2.6,{line:{color:C.BTC,width:2.6,shape:"hv"}}),
  tr(ETH_LP,6,C.ETH,2.6,{line:{color:C.ETH,width:2.6,shape:"hv"}}),
  tr(SOL_LP,6,C.SOL,2.6,{line:{color:C.SOL,width:2.6,shape:"hv"}})
];

const tickFont = {family:FONT, size:18.5, color:TXT};
const axBase = {showline:true, mirror:true, linecolor:SPINE, linewidth:1.5, ticks:"outside", ticklen:6,
  tickwidth:1.5, tickcolor:TXT, showgrid:false, zeroline:false, tickfont:tickFont, automargin:false, fixedrange:true};

const layout = {
  width:W, height:H, paper_bgcolor:BG, plot_bgcolor:BG,
  margin:{l:ML, r:MR, t:MT, b:MB}, hovermode:false,
  font:{family:FONT, color:TXT, size:18.5},
  title:{text:"GMX E1 shadow safety monitor - day snapshot 2026-07-30<br>shadow / dry-run: observes and records only, nothing pages, nothing is written on-chain",
    font:{family:FONT, size:25, color:TXT}, x:0.5, xanchor:"center", xref:"container", y:1-65/H, yanchor:"middle", yref:"container"},
  legend:{x:px(166), y:py(190), xanchor:"left", yanchor:"top", orientation:"h", bgcolor:"rgba(0,0,0,0)",
    font:{family:FONT,size:18.5,color:TXT}, itemwidth:40, entrywidth:76},
  legend2:{x:px(160), y:py(648), xanchor:"left", yanchor:"top", bgcolor:"rgba(0,0,0,0)",
    font:{family:FONT,size:14,color:TXT}, itemwidth:30},
  legend3:{x:px(162), y:py(1242), xanchor:"left", yanchor:"bottom", bgcolor:"rgba(0,0,0,0)",
    font:{family:FONT,size:16,color:TXT}, itemwidth:40},
  shapes:[], annotations:[]
};

const yTitles = ["net trader skew (USD)","exit dial U","budget (USD)","D (USD)","sigma gate (/sqrt-h)","7d LP net outflow (%)"];
for (let i = 1; i <= 6; i++) {
  const s = i === 1 ? "" : String(i);
  layout["xaxis"+s] = Object.assign({}, axBase, {domain:[0,1], anchor:"y"+s, range:XRANGE,
    tickvals:X_TICK_VALS, ticktext:X_TICK_LABELS, showticklabels: i === 6});
  layout["yaxis"+s] = Object.assign({}, axBase, {domain:ydom(PANELS[i-1]), anchor:"x"+s,
    title:{text:yTitles[i-1], font:{family:FONT,size:18.5,color:TXT}, standoff:8}});
}
layout.xaxis6.title = {text:"UTC, 2026-07-30", font:{family:FONT,size:18.5,color:TXT}, standoff:10};

Object.assign(layout.yaxis, {range:[-6.958,1.706], tickvals:SKEW_TICK_VALS, ticktext:SKEW_TICK_LABELS,
  zeroline:true, zerolinecolor:C.ZERO, zerolinewidth:1.3});
Object.assign(layout.yaxis2, {range:[0,1.227], tick0:0, dtick:0.2, tickformat:".1f"});
Object.assign(layout.yaxis3, {range:[292,1023], tickvals:BUDGET_TICK_VALS, ticktext:BUDGET_TICK_LABELS});
Object.assign(layout.yaxis4, {range:[-112130,58450], tickvals:D_TICK_VALS, ticktext:D_TICK_LABELS,
  zeroline:true, zerolinecolor:C.ZERO, zerolinewidth:1.3});
Object.assign(layout.yaxis5, {range:[0.00139,0.01486], tick0:0.002, dtick:0.002, tickformat:".3f"});
Object.assign(layout.yaxis6, {range:[-0.243,1.639], tick0:0, dtick:0.5, tickformat:".1f",
  zeroline:true, zerolinecolor:C.ZERO, zerolinewidth:1.3});

// episodes (panel 4)
EPISODE_START.forEach((s, k) => {
  const inc = EPISODE_KIND[k] === "incident";
  layout.shapes.push({type:"rect", xref:"x4", yref:"y4 domain", x0:s, x1:EPISODE_END[k], y0:0, y1:1, layer:"below",
    fillcolor: inc ? "rgba(56,139,253,0.15)" : "rgba(56,139,253,0.05)",
    line:{color: inc ? "rgba(56,139,253,0.25)" : "rgba(56,139,253,0.08)", width:1}});
});
// red line U = 1
layout.shapes.push({type:"line", xref:"x2 domain", yref:"y2", x0:0, x1:1, y0:U_RED_LINE, y1:U_RED_LINE,
  line:{color:C.RED, width:2, dash:"5px,3px"}});
// running floors
[["BTC",C.BTC],["ETH",C.ETH],["SOL",C.SOL]].forEach(([k,c]) => {
  layout.shapes.push({type:"line", xref:"x5 domain", yref:"y5", x0:0, x1:1, y0:SIGMA_FLOOR[k], y1:SIGMA_FLOOR[k],
    line:{color:c, width:1.3, dash:"dot"}});
});

const note = (text, x, y, opts) => Object.assign({text:text, xref:"paper", yref:"paper", x:px(x), y:py(y),
  xanchor:"left", yanchor:"middle", showarrow:false, font:{family:FONT, size:16, color:MUTED}}, opts || {});
layout.annotations.push(note("red line U = 1", 1790, 669, {xanchor:"right", font:{family:FONT,size:16,color:C.RED}}));
layout.annotations.push(note("shaded = incident machine open (episode classification)", 162, 1303));
layout.annotations.push(note("dotted = running floors", 162, 1622));
layout.annotations.push(note("review thresholds: 20 per market / 15 aggregate (PROVISIONAL)", 162, 1944));
layout.annotations.push(note("506 ticks (506 ok) | schemas a6b-flows-1 | gaps shaded | generated 2026-07-30 16:49Z", 17, 2224,
  {font:{family:FONT,size:13.5,color:MUTED}}));

Plotly.newPlot("chart", traces, layout, {displayModeBar:false, staticPlot:true});
</script></body></html>
